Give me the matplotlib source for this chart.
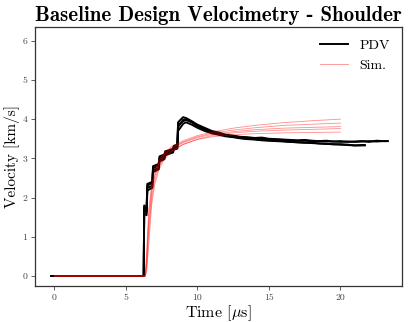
import matplotlib
matplotlib.use("Agg")
import matplotlib.pyplot as plt

plt.rcParams['mathtext.fontset'] = 'cm'
plt.rcParams['axes.unicode_minus'] = False

# PDV traces (time in us, velocity in km/s)
pdv_t = [-0.2, 6.25, 6.28, 6.45, 6.5, 6.85, 6.9, 7.3, 7.35, 7.7, 7.75, 8.3, 8.35, 8.6, 8.65, 9.0, 9.2,
         9.6, 10.0, 10.5, 11.0, 11.5, 12.0, 12.5, 13.0, 13.5, 14.0, 14.5, 15.0, 15.5, 16.0, 16.5, 17.0,
         17.5, 18.0, 18.5, 19.0, 19.5, 20.0, 20.5, 21.0, 21.5, 22.0, 22.5, 23.0]
pdv_1 = [0, 0, 1.80, 1.72, 2.30, 2.38, 2.75, 2.82, 3.00, 3.06, 3.15, 3.22, 3.30, 3.32, 3.92, 4.05, 4.03,
         3.95, 3.86, 3.78, 3.70, 3.66, 3.60, 3.58, 3.55, 3.54, 3.52, 3.53, 3.50, 3.49, 3.48, 3.47, 3.46,
         3.47, 3.45, 3.44, 3.45, 3.43, 3.44, 3.42, 3.43, 3.44, 3.42, 3.45, 3.44]
pdv_2 = [0, 0, 1.70, 1.62, 2.25, 2.30, 2.70, 2.76, 2.95, 3.02, 3.12, 3.18, 3.26, 3.28, 3.80, 3.98, 4.00,
         3.93, 3.84, 3.75, 3.68, 3.62, 3.58, 3.55, 3.52, 3.50, 3.49, 3.47, 3.46, 3.45, 3.44, 3.42, 3.41,
         3.40, 3.40, 3.38, 3.37, 3.36, 3.36, 3.35, 3.33, 3.34, 3.33, 3.32, 3.33]
pdv_3 = [0, 0, 1.60, 1.55, 2.18, 2.25, 2.65, 2.72, 2.92, 2.98, 3.08, 3.15, 3.22, 3.25, 3.70, 3.88, 3.92,
         3.86, 3.78, 3.70, 3.64, 3.60, 3.56, 3.54, 3.51, 3.49, 3.48, 3.46, 3.45, 3.44, 3.43, 3.42, 3.41,
         3.40, 3.39, 3.38, 3.37, 3.36, 3.35, 3.34, 3.33, 3.33, 3.32, 3.31, 3.31]
pdv_4 = [0, 0, 1.75, 1.68, 2.35, 2.40, 2.80, 2.86, 3.05, 3.10, 3.18, 3.24, 3.32, 3.35, 3.85, 3.95, 3.98,
         3.92, 3.82, 3.74, 3.67, 3.63, 3.59, 3.56, 3.54, 3.52, 3.51, 3.50, 3.49, 3.48, 3.47, 3.46, 3.45,
         3.45, 3.44, 3.44, 3.43, 3.43, 3.42, 3.43, 3.42, 3.43, 3.44, 3.43, 3.44]
pdv_end = [23.3, 21.7, 21.7, 23.3]

# Simulations
sim_t = [0, 6.35, 6.45, 6.6, 6.8, 7.0, 7.3, 7.7, 8.2, 9.0, 10.0, 11.0, 12.5, 14.0, 16.0, 18.0, 20.0]
sim_1 = [0, 0, 0.6, 1.7, 2.3, 2.65, 2.95, 3.15, 3.30, 3.45, 3.58, 3.67, 3.77, 3.84, 3.91, 3.96, 4.00]
sim_2 = [0, 0, 0.4, 1.5, 2.2, 2.55, 2.88, 3.10, 3.27, 3.42, 3.55, 3.64, 3.72, 3.78, 3.84, 3.87, 3.90]
sim_3 = [0, 0, 0.3, 1.3, 2.1, 2.50, 2.85, 3.08, 3.25, 3.40, 3.53, 3.61, 3.68, 3.73, 3.77, 3.79, 3.81]
sim_4 = [0, 0, 0.2, 1.1, 1.95, 2.40, 2.78, 3.02, 3.20, 3.36, 3.48, 3.55, 3.60, 3.63, 3.65, 3.66, 3.67]
sim_5 = [0, 0, 0.1, 0.8, 1.8, 2.30, 2.70, 2.98, 3.18, 3.35, 3.49, 3.58, 3.65, 3.69, 3.72, 3.74, 3.76]

fig = plt.figure(figsize=(4.09, 3.22), dpi=100)
ax = fig.add_axes([35/409, 1-286/322, (402-35)/409, (286-27)/322])

for i, s in enumerate([sim_1, sim_2, sim_3, sim_4, sim_5]):
    ax.plot(sim_t, s, color='red', lw=0.6, alpha=0.45, label='Sim.' if i == 0 else None, zorder=3)

for i, (p, te) in enumerate(zip([pdv_1, pdv_2, pdv_3, pdv_4], pdv_end)):
    tt = [t for t in pdv_t if t <= te] + [te]
    pp = p[:len(tt) - 1] + [p[len(tt) - 2]]
    ax.plot(tt, pp, color='black', lw=1.4, label='PDV' if i == 0 else None, zorder=2)

ax.set_xlim(-1.35, 24.3)
ax.set_ylim(-0.255, 6.35)
ax.set_xticks([0, 5, 10, 15, 20])
ax.set_yticks([0, 1, 2, 3, 4, 5, 6])
for lab in ax.get_xticklabels() + ax.get_yticklabels():
    lab.set_fontfamily('cmr10')
    lab.set_fontsize(7)
    lab.set_color('#444444')
ax.tick_params(length=3, width=0.6, pad=2.5, colors='#444444', labelcolor='#444444')
for sp in ax.spines.values():
    sp.set_color('#333333')
    sp.set_linewidth(0.9)

ax.set_xlabel(r'Time [$\mu$s]', fontfamily='cmr10', fontsize=11.5, labelpad=1)
ax.set_ylabel('Velocity [km/s]', fontfamily='cmr10', fontsize=11, labelpad=2)
ax.set_title('Baseline Design Velocimetry - Shoulder', fontfamily='cmb10', fontsize=15, pad=4)

handles, labels = ax.get_legend_handles_labels()
order = [labels.index('PDV'), labels.index('Sim.')]
leg = ax.legend([handles[i] for i in order], [labels[i] for i in order], loc='upper right',
                frameon=False, prop={'family': 'cmr10', 'size': 10})

fig.savefig('out.png', dpi=100)
